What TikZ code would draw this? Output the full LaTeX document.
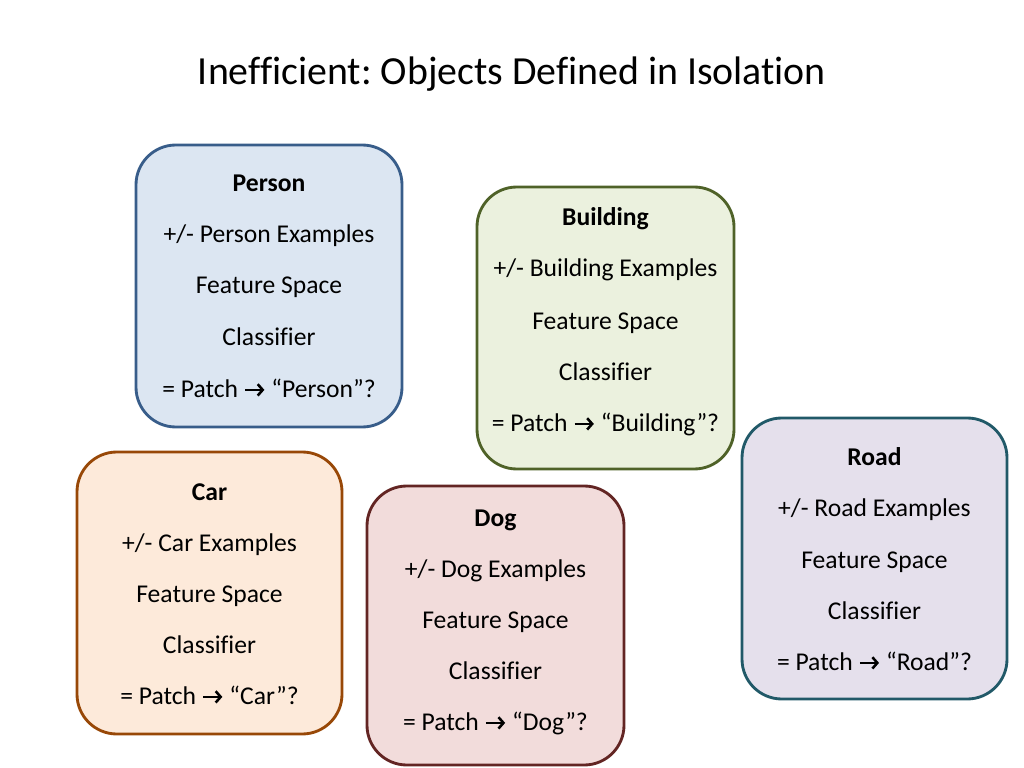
\documentclass[tikz,border=0pt]{standalone}
\usetikzlibrary{arrows.meta}
\usepackage{fontspec}
\setmainfont[Ligatures={NoCommon}]{Carlito}
\frenchspacing
\newcommand{\rarr}{\tikz[baseline=0pt]\draw[line width=1.8pt, -{Straight Barb[length=3.5pt, width=8pt, line width=1.8pt]}] (0pt,5pt) -- (13.5pt,5pt);}
\definecolor{pfill}{RGB}{220,230,242}
\definecolor{pdraw}{RGB}{56,93,138}
\definecolor{bfill}{RGB}{235,241,222}
\definecolor{bdraw}{RGB}{79,98,40}
\definecolor{rfill}{RGB}{229,224,236}
\definecolor{rdraw}{RGB}{33,89,104}
\definecolor{cfill}{RGB}{253,234,218}
\definecolor{cdraw}{RGB}{152,72,7}
\definecolor{dfill}{RGB}{242,220,219}
\definecolor{ddraw}{RGB}{99,37,35}
\tikzset{
  box/.style={draw, line width=2pt, rounded corners=28pt, inner sep=0pt},
  txt/.style={inner sep=0pt, font=\fontsize{18}{21}\selectfont, anchor=base},
  ttl/.style={inner sep=0pt, font=\fontsize{18}{21}\selectfont\bfseries, anchor=base}
}
\begin{document}
\begin{tikzpicture}[x={(0.703125pt,0)}, y={(0,-0.703125pt)}]
\useasboundingbox (0,0) rectangle (1024,768);
\node[inner sep=0pt, font=\fontsize{28}{32}\selectfont] (title) at (512,74) {Inefficient: Objects Defined in Isolation};
% boxes
\node[box, fill=pfill, draw=pdraw, minimum width=266*0.703125pt, minimum height=282*0.703125pt] (person) at (269,286) {};
\node[box, fill=bfill, draw=bdraw, minimum width=257*0.703125pt, minimum height=282*0.703125pt] (building) at (605.5,328) {};
\node[box, fill=rfill, draw=rdraw, minimum width=265*0.703125pt, minimum height=281*0.703125pt] (road) at (874.5,558.5) {};
\node[box, fill=cfill, draw=cdraw, minimum width=265*0.703125pt, minimum height=282*0.703125pt] (car) at (209.5,593) {};
\node[box, fill=dfill, draw=ddraw, minimum width=257*0.703125pt, minimum height=279*0.703125pt] (dog) at (495.5,625.5) {};
% Person
\node[ttl] (p1) at (269,192) {Person};
\node[txt] (p2) at (269,243) {+/- Person Examples};
\node[txt] (p3) at (269,294) {Feature Space};
\node[txt] (p4) at (269,345) {Classifier};
\node[txt] (p5) at (269,397) {= Patch \rarr{} “Person”?};
% Building
\node[ttl] (b1) at (605.5,226) {Building};
\node[txt] (b2) at (605.5,277) {+/- Building Examples};
\node[txt] (b3) at (605.5,329) {Feature Space};
\node[txt] (b4) at (605.5,380) {Classifier};
\node[txt] (b5) at (605.5,431) {= Patch \rarr{} “Building”?};
% Road
\node[ttl] (r1) at (874.5,465) {Road};
\node[txt] (r2) at (874.5,516) {+/- Road Examples};
\node[txt] (r3) at (874.5,568) {Feature Space};
\node[txt] (r4) at (874.5,619) {Classifier};
\node[txt] (r5) at (874.5,670) {= Patch \rarr{} “Road”?};
% Car
\node[ttl] (c1) at (209.5,500) {Car};
\node[txt] (c2) at (209.5,551) {+/- Car Examples};
\node[txt] (c3) at (209.5,602) {Feature Space};
\node[txt] (c4) at (209.5,653) {Classifier};
\node[txt] (c5) at (209.5,704) {= Patch \rarr{} “Car”?};
% Dog
\node[ttl] (d1) at (495.5,526) {Dog};
\node[txt] (d2) at (495.5,577) {+/- Dog Examples};
\node[txt] (d3) at (495.5,628) {Feature Space};
\node[txt] (d4) at (495.5,679) {Classifier};
\node[txt] (d5) at (495.5,730) {= Patch \rarr{} “Dog”?};
\end{tikzpicture}
\end{document}
